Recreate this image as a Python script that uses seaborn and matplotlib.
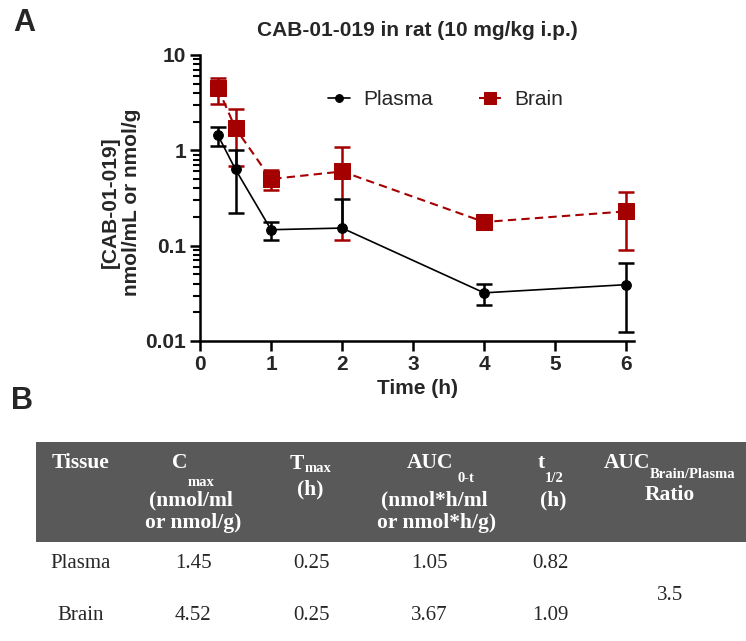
import numpy as np
import pandas as pd
import matplotlib
matplotlib.use("Agg")
import matplotlib.pyplot as plt
from matplotlib.markers import TICKLEFT
import seaborn as sns

# PK data (mean, upper and lower error bar ends)
time_h = [0.25, 0.5, 1, 2, 4, 6]
plasma_mean = [1.45, 0.63, 0.147, 0.153, 0.032, 0.039]
plasma_hi = [1.76, 1.02, 0.176, 0.31, 0.040, 0.066]
plasma_lo = [1.10, 0.222, 0.115, np.nan, 0.0238, 0.0124]
brain_mean = [4.52, 1.70, 0.50, 0.60, 0.177, 0.229]
brain_hi = [5.74, 2.71, 0.617, 1.08, 0.198, 0.363]
brain_lo = [3.06, 0.68, 0.387, 0.114, 0.160, 0.091]

y_ticks = [0.01, 0.1, 1, 10]
y_tick_labels = ["0.01", "0.1", "1", "10"]
x_ticks = [0, 1, 2, 3, 4, 5, 6]

# table values
tissues = ["Plasma", "Brain"]
cmax = ["1.45", "4.52"]
tmax = ["0.25", "0.25"]
auc = ["1.05", "3.67"]
thalf = ["0.82", "1.09"]
auc_ratio = "3.5"

RED = "#a50000"
W, H = 746, 641

sns.set_style("ticks")
plt.rcParams["font.family"] = ["Liberation Sans", "DejaVu Sans"]

fig = plt.figure(figsize=(W / 100, H / 100), dpi=100)
ax = fig.add_axes([200 / W, 1 - 341 / H, 434 / W, 286 / H])

df = pd.DataFrame({"time": time_h, "plasma": plasma_mean, "brain": brain_mean})


def px(x, y):
    return x / W, 1 - y / H


# error bars: vertical segments then caps as markers
def draw_err(mean, hi, lo, color):
    lo_arr = np.array(lo, dtype=float)
    lo_fill = np.where(np.isnan(lo_arr), mean, lo_arr)
    ax.vlines(time_h, lo_fill, hi, color=color, linewidth=1.8, zorder=2)
    ax.plot(time_h, hi, linestyle="none", marker="_", markersize=11,
            markeredgewidth=1.8, color=color, zorder=2)
    ax.plot(time_h, lo_arr, linestyle="none", marker="_", markersize=11,
            markeredgewidth=1.8, color=color, zorder=2)


draw_err(brain_mean, brain_hi, brain_lo, RED)
draw_err(plasma_mean, plasma_hi, plasma_lo, "black")

sns.lineplot(data=df, x="time", y="plasma", ax=ax, color="black", marker="o",
             markersize=7, markeredgecolor="black", linewidth=1.2,
             label="Plasma", zorder=3)
sns.lineplot(data=df, x="time", y="brain", ax=ax, color=RED, marker="s",
             markersize=11, markeredgecolor=RED, linewidth=1.5,
             linestyle=(0, (4, 2.5)), label="Brain", zorder=3)

ax.set_yscale("log")
ax.set_ylim(0.01, 10)
ax.set_xlim(0, 6.11)
ax.set_yticks(y_ticks)
ax.set_yticklabels(y_tick_labels)
ax.minorticks_off()
ax.set_xticks(x_ticks)
for lab in ax.get_xticklabels() + ax.get_yticklabels():
    lab.set_fontweight("bold")
    lab.set_fontsize(15)
ax.tick_params(axis="both", which="major", length=7, width=1.8, color="black", pad=3)

# short log minor ticks 2..9 per decade on the left spine
minor_ticks = [m * 10.0 ** e for e in (-2, -1, 0) for m in range(2, 10)]
ax.plot([0] * len(minor_ticks), minor_ticks, linestyle="none", marker=TICKLEFT,
        markersize=5, markeredgewidth=1.5, color="black", clip_on=False, zorder=5)

sns.despine(ax=ax)
for sp in ["left", "bottom"]:
    ax.spines[sp].set_linewidth(1.8)
    ax.spines[sp].set_color("black")

ax.set_xlabel("Time (h)", fontsize=15, fontweight="bold", labelpad=4)
ax.set_ylabel("[CAB-01-019]\nnmol/mL or nmol/g", fontsize=15, fontweight="bold")
ax.yaxis.set_label_coords(-0.135, 0.486)
ax.set_title("CAB-01-019 in rat (10 mg/kg i.p.)", fontsize=15, fontweight="bold", pad=14)

ax.legend(ncol=2, frameon=False, loc="center", bbox_to_anchor=(0.565, 0.843),
          fontsize=15, handlelength=1.1, handletextpad=0.6, columnspacing=2.2,
          markerscale=0.8)

fig.text(*px(24, 23), "A", fontsize=22, fontweight="bold", ha="center", va="center")
fig.text(*px(22, 401), "B", fontsize=22, fontweight="bold", ha="center", va="center")

# table panel
tax = fig.add_axes([0, 0, 1, 1], zorder=-1)
tax.set_xlim(0, W)
tax.set_ylim(H, 0)
tax.axis("off")
tax.add_patch(plt.Rectangle((36, 442), W - 36, 100, color="#595959", linewidth=0))

serif = ["Liberation Serif", "DejaVu Serif"]
hdr = dict(color="white", fontweight="bold", family=serif, ha="center", va="center")
big, small = 15.5, 10.5


def head(x, y, s, size=big, ha="center"):
    tax.text(x, y, s, fontsize=size, **{**hdr, "ha": ha})


head(81, 463, "Tissue")
head(180, 463, "C")
head(201, 482, "max", small)
head(191, 500, "(nmol/ml")
head(193, 523, "or nmol/g)")
head(297, 464, "T")
head(305, 468, "max", small, ha="left")
head(310, 489, "(h)")
head(430, 463, "AUC")
head(466, 479, "0-t", small)
head(434, 500, "(nmol*h/ml")
head(437, 523, "or nmol*h/g)")
head(541, 463, "t")
head(554, 478, "1/2", small)
head(553, 500, "(h)")
head(627, 463, "AUC")
head(693, 475, "Brain/Plasma", small)
head(670, 495, "Ratio")

col_x = [81, 193, 311, 429, 550]
row_y = [563, 615]
for i in range(2):
    for cx, val in zip(col_x, [tissues[i], cmax[i], tmax[i], auc[i], thalf[i]]):
        tax.text(cx, row_y[i], val, fontsize=15, family=serif, ha="center", va="center")
tax.text(670, 595, auc_ratio, fontsize=15, family=serif, ha="center", va="center")

fig.savefig("out.png", dpi=100)
